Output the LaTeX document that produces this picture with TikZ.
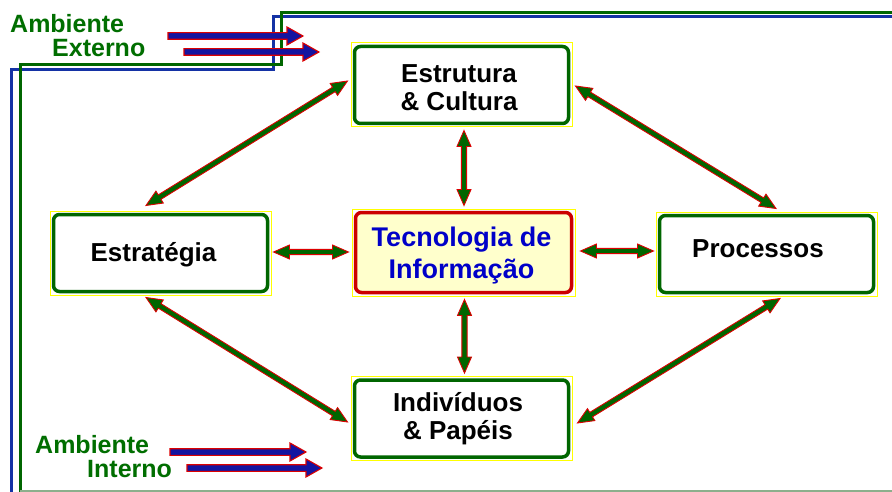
\documentclass[tikz,border=0pt]{standalone}
\usepackage{fontspec}
\setmainfont{Liberation Sans}
\usetikzlibrary{calc}
\definecolor{dgreen}{RGB}{0,102,0}
\definecolor{tgreen}{RGB}{0,110,0}
\definecolor{fblue}{RGB}{20,50,165}
\definecolor{ared}{RGB}{220,0,0}
\definecolor{bred}{RGB}{204,0,0}
\definecolor{tiblue}{RGB}{0,0,200}
\definecolor{tifill}{RGB}{255,255,204}
\definecolor{ablue}{RGB}{20,20,160}
\definecolor{ybox}{RGB}{255,255,0}
\definecolor{lline}{RGB}{140,175,140}
\newcommand\dblarr[2]{%
 \path[darr] let \p1=(#1), \p3=($(#2)-(#1)$), \n1={atan2(\y3,\x3)}, \n2={veclen(\x3,\y3)} in
 [shift={(\x1,\y1)}, rotate=\n1]
 (0pt,0pt) -- (16pt,7pt) -- (16pt,2.6pt) -- ({\n2-16pt},2.6pt) -- ({\n2-16pt},7pt) -- ({\n2+0pt},0pt)
 -- ({\n2-16pt},-7pt) -- ({\n2-16pt},-2.6pt) -- (16pt,-2.6pt) -- (16pt,-7pt) -- cycle;}
\newcommand\sglarr[2]{%
 \path[barr] let \p1=(#1), \p3=($(#2)-(#1)$), \n1={atan2(\y3,\x3)}, \n2={veclen(\x3,\y3)} in
 [shift={(\x1,\y1)}, rotate=\n1]
 (0pt,3.3pt) -- ({\n2-16pt},3.3pt) -- ({\n2-16pt},9pt) -- ({\n2+0pt},0pt)
 -- ({\n2-16pt},-9pt) -- ({\n2-16pt},-3.3pt) -- (0pt,-3.3pt) -- cycle;}
\tikzset{
 darr/.style={fill=dgreen, draw=ared, line width=0.9pt, line join=miter},
 barr/.style={fill=ablue, draw=ared, line width=1.1pt, line join=miter},
 ybx/.style={draw=ybox, line width=1pt, minimum width=221pt, minimum height=84pt, inner sep=0pt},
 gbox/.style={draw=dgreen, line width=3.5pt, rounded corners=6pt},
 rbox/.style={draw=bred, fill=tifill, line width=3.5pt, rounded corners=6pt},
 lbl/.style={font=\fontsize{26pt}{28pt}\selectfont\bfseries, align=center, inner sep=0pt},
 amb/.style={font=\fontsize{25pt}{24pt}\selectfont\bfseries, text=tgreen, inner sep=0pt, anchor=base west},
 frame/.style={line width=3pt, line join=miter}
}
\begin{document}
\begin{tikzpicture}[x=1pt,y=-1pt]
\useasboundingbox (0,0) rectangle (892,492);
\fill[white] (0,0) rectangle (892,492);
% frames
\draw[frame, fblue] (11,496) -- (11,70) -- (273,70) -- (273,17) -- (896,17);
\draw[frame, dgreen] (20,496) -- (20,65) -- (281,65) -- (281,13) -- (896,13);
\draw[lline, line width=1.5pt] (20,491) -- (896,491);
% boxes
\node[ybx] (estr) at (461.5,85) {};
\node[ybx] (strat) at (160.5,253) {};
\node[ybx, minimum width=223pt, minimum height=87pt] (ti) at (463.5,252.5) {};
\node[ybx] (proc) at (766.5,254) {};
\node[ybx] (ind) at (461.5,418.5) {};
\foreach \n in {estr,strat,proc,ind}
  \draw[gbox] ($(\n.north west)+(4,4)$) rectangle ($(\n.south east)+(-4,-4)$);
\draw[rbox] ($(ti.north west)+(4,4)$) rectangle ($(ti.south east)+(-4,-4)$);
% labels
\node[lbl] (estrT) at (459,88) {Estrutura\\\& Cultura};
\node[lbl] (stratT) at (153.5,255) {Estratégia};
\node[lbl] (procT) at (758,248.7) {Processos};
\node[lbl] (indT) at (458,419) {Indivíduos\\\& Papéis};
\node[lbl, text=tiblue, font=\fontsize{27pt}{31.5pt}\selectfont\bfseries] (tiT) at (461.5,255.6) {Tecnologia de\\Informação};
\node[amb] (ae1) at (10,33) {Ambiente};
\node[amb] (ae2) at (52,57) {Externo};
\node[amb] (ai1) at (35,453) {Ambiente};
\node[amb] (ai2) at (87,477) {Interno};
% connector end points
\coordinate (a1s) at ($(strat.north)+(-14.5,-5)$);
\coordinate (a1e) at ($(estr.west)+(-3,-4)$);
\coordinate (a2s) at ($(estr.east)+(3,1)$);
\coordinate (a2e) at ($(proc.north)+(9.5,-3)$);
\coordinate (a3s) at ($(strat.south)+(-14.5,2)$);
\coordinate (a3e) at ($(ind.west)+(-3,3.5)$);
\coordinate (a4s) at ($(proc.south)+(13.5,2)$);
\coordinate (a4e) at ($(ind.east)+(5,4.5)$);
\coordinate (v1s) at ($(estr.south)+(2.5,3)$);
\coordinate (v1e) at ($(ti.north)+(0.5,-3)$);
\coordinate (v2s) at ($(ti.south)+(1,3)$);
\coordinate (v2e) at ($(ind.north)+(3,-3)$);
\coordinate (h1s) at ($(strat.east)+(2,-1)$);
\coordinate (h1e) at ($(ti.west)+(-3,-0.5)$);
\coordinate (h2s) at ($(ti.east)+(5,-1.5)$);
\coordinate (h2e) at ($(proc.west)+(-2,-3)$);
\dblarr{a1s}{a1e}
\dblarr{a2s}{a2e}
\dblarr{a3s}{a3e}
\dblarr{a4s}{a4e}
\dblarr{v1s}{v1e}
\dblarr{v2s}{v2e}
\dblarr{h1s}{h1e}
\dblarr{h2s}{h2e}
% outer arrows
\coordinate (e1s) at (168,36);
\coordinate (e1t) at (303,36);
\coordinate (e2s) at (184,52);
\coordinate (e2t) at (319,52);
\coordinate (i1s) at (170,452);
\coordinate (i1t) at (306,452);
\coordinate (i2s) at (187,468);
\coordinate (i2t) at (322,468);
\sglarr{e1s}{e1t}
\sglarr{e2s}{e2t}
\sglarr{i1s}{i1t}
\sglarr{i2s}{i2t}
\end{tikzpicture}
\end{document}
